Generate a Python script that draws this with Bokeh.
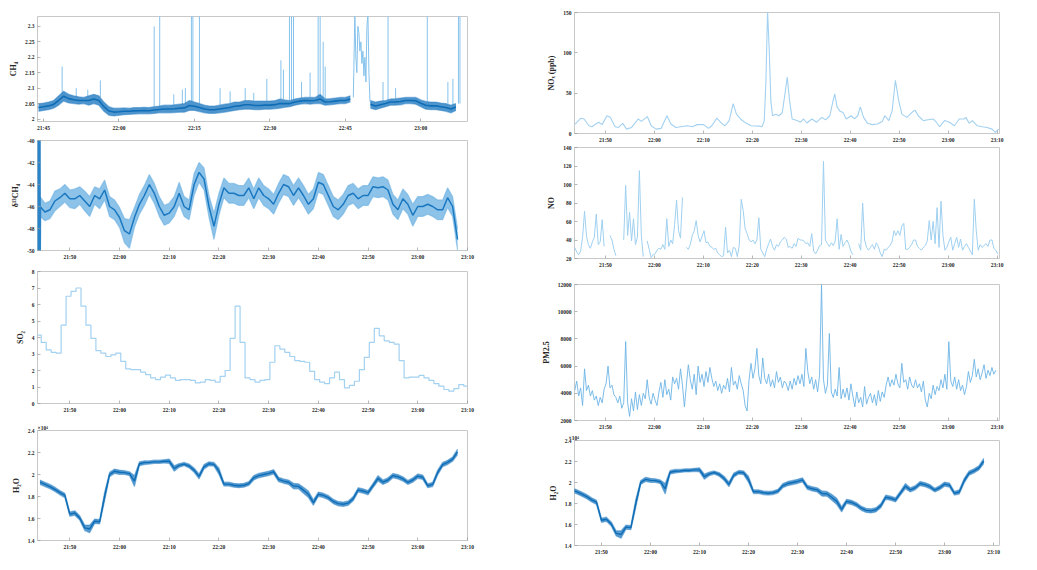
import numpy as np
from bokeh.plotting import figure
from bokeh.models import Range1d, FixedTicker, Title
from bokeh.layouts import row, column
from bokeh.embed import file_html
from bokeh.resources import INLINE

# ---------------- data ----------------
BASE = "21:40"            # offsets below are minutes after 21:40

ticks_15 = ["21:45", "22:00", "22:15", "22:30", "22:45", "23:00"]
ticks_10 = ["21:50", "22:00", "22:10", "22:20", "22:30", "22:40", "22:50", "23:00", "23:10"]

# CH4 (ppm): 1-min envelope of the dense trace, start 21:44
ch4_start = "21:44"
ch4_lo = [2.025, 2.028, 2.030, 2.035, 2.045, 2.058, 2.052, 2.050, 2.048, 2.050,
          2.045, 2.050, 2.045, 2.025, 2.012, 2.010, 2.012, 2.014, 2.015, 2.016,
          2.017, 2.017, 2.017, 2.018, 2.020, 2.020, 2.020, 2.021, 2.022, 2.022,
          2.028, 2.028, 2.024, 2.020, 2.018, 2.018, 2.020, 2.022, 2.025, 2.028,
          2.030, 2.032, 2.032, 2.030, 2.030, 2.032, 2.032, 2.033, 2.035, 2.038,
          2.040, 2.045, 2.048, 2.050, 2.048, 2.050, 2.050, 2.045, 2.046, 2.048,
          2.050, 2.050, 2.055, np.nan, np.nan, np.nan, 2.035, 2.030, 2.035, 2.040,
          2.045, 2.045, 2.046, 2.050, 2.050, 2.048, 2.040, 2.032, 2.030, 2.030,
          2.028, 2.025, 2.020, 2.028]
ch4_hi = [2.050, 2.052, 2.055, 2.060, 2.075, 2.090, 2.080, 2.075, 2.072, 2.070,
          2.075, 2.080, 2.075, 2.055, 2.040, 2.035, 2.035, 2.036, 2.035, 2.037,
          2.037, 2.038, 2.037, 2.040, 2.042, 2.045, 2.045, 2.046, 2.048, 2.050,
          2.060, 2.055, 2.050, 2.045, 2.042, 2.042, 2.045, 2.048, 2.050, 2.055,
          2.055, 2.060, 2.060, 2.058, 2.058, 2.058, 2.058, 2.060, 2.065, 2.062,
          2.060, 2.065, 2.068, 2.070, 2.070, 2.070, 2.080, 2.065, 2.066, 2.068,
          2.070, 2.070, 2.075, np.nan, np.nan, np.nan, 2.060, 2.055, 2.058, 2.060,
          2.065, 2.066, 2.068, 2.070, 2.070, 2.070, 2.062, 2.057, 2.055, 2.055,
          2.052, 2.050, 2.045, 2.050]
ch4_spike_min = [8.7, 11.5, 13.8, 16.3, 27.0, 28.1, 30.9, 32.6, 33.2, 34.4, 34.7, 36.0,
                 40.1, 42.1, 45.1, 46.8, 49.4, 52.2, 52.7, 53.9, 54.3, 54.7, 56.3, 58.0,
                 59.6, 60.0, 60.6, 61.0, 72.5, 73.5, 75.0, 81.3, 85.4, 86.4, 87.5, 87.8]
ch4_spike_base = [2.08, 2.07, 2.07, 2.07, 2.04, 2.04, 2.045, 2.045, 2.05, 2.055, 2.055, 2.05,
                  2.045, 2.05, 2.06, 2.06, 2.058, 2.065, 2.065, 2.06, 2.06, 2.06, 2.068, 2.07,
                  2.07, 2.07, 2.065, 2.065, 2.058, 2.06, 2.066, 2.057, 2.05, 2.045, 2.05, 2.05]
ch4_spike_top = [2.17, 2.10, 2.095, 2.125, 2.30, 2.34, 2.08, 2.095, 2.10, 2.34, 2.34, 2.34,
                 2.10, 2.09, 2.10, 2.085, 2.13, 2.19, 2.16, 2.34, 2.34, 2.34, 2.12, 2.15,
                 2.34, 2.34, 2.25, 2.17, 2.12, 2.34, 2.10, 2.34, 2.12, 2.13, 2.34, 2.34]
ch4_burst_min = [66.6, 66.9, 67.1, 67.3, 67.5, 67.7, 67.9, 68.1, 68.3, 68.5, 68.7, 68.9,
                 69.1, 69.3, 69.5, 69.7, 69.9, 70.1]
ch4_burst = [2.07, 2.34, 2.20, 2.15, 2.30, 2.28, 2.22, 2.25, 2.18, 2.22, 2.14, 2.20,
             2.12, 2.30, 2.34, 2.15, 2.06, 2.05]

# delta13C-CH4 (permil): 1-min envelope, start 21:44
d13_start = "21:44"
d13_lo = [-46.9, -47.3, -47.1, -46.4, -46.0, -45.6, -46.1, -46.2, -45.8, -46.4,
          -46.9, -45.8, -46.2, -45.4, -46.9, -47.2, -47.9, -49.3, -49.8, -47.9,
          -46.7, -45.9, -44.9, -45.7, -46.9, -47.7, -47.5, -46.9, -45.8, -46.9,
          -47.2, -45.0, -43.8, -44.5, -47.0, -49.0, -46.8, -45.2, -45.7, -45.7,
          -45.9, -45.9, -45.2, -46.2, -45.2, -45.9, -46.2, -46.7, -45.7, -44.9,
          -45.1, -45.9, -45.2, -45.9, -46.7, -46.2, -44.7, -44.9, -45.9, -46.9,
          -47.2, -46.7, -45.9, -45.7, -46.2, -45.9, -45.9, -45.1, -45.2, -45.1,
          -45.4, -46.7, -47.2, -46.2, -46.7, -47.8, -46.9, -46.9, -46.7, -46.9,
          -47.2, -47.2, -46.1, -46.9, -50.0]
d13_hi = [-45.1, -45.7, -45.5, -44.6, -44.4, -44.0, -44.5, -44.4, -44.2, -44.6,
          -45.1, -44.2, -44.4, -43.6, -45.1, -45.4, -46.1, -47.1, -47.2, -46.1,
          -44.9, -44.1, -43.1, -43.9, -45.1, -45.9, -45.7, -45.1, -43.8, -45.1,
          -45.4, -43.0, -42.0, -42.5, -45.0, -46.6, -44.8, -43.4, -43.9, -43.9,
          -44.1, -44.1, -43.4, -44.4, -43.4, -44.1, -44.4, -44.9, -43.9, -43.1,
          -43.3, -44.1, -43.4, -44.1, -44.9, -44.4, -42.9, -43.1, -44.1, -45.1,
          -45.4, -44.9, -44.1, -43.9, -44.4, -44.1, -44.1, -43.3, -43.4, -43.3,
          -43.6, -44.9, -45.4, -44.4, -44.9, -45.8, -45.1, -45.1, -44.9, -45.1,
          -45.4, -45.4, -44.3, -45.1, -48.0]
d13_burst_min = [3.40, 3.45, 3.50, 3.55, 3.60, 3.65, 3.70, 3.75, 3.80, 3.85, 3.90, 3.95, 4.00, 4.05, 4.10]
d13_burst = [-39, -51, -39, -51, -39, -51, -39, -51, -39, -51, -39, -51, -39, -51, -46]

# SO2: 1-min steps, start 21:43:15
so2_start = "21:43:15"
so2 = [4.15, 3.7, 3.25, 3.1, 3.05, 4.75, 6.5, 6.8, 7.0, 5.9,
       4.75, 3.95, 3.2, 3.05, 2.85, 2.95, 3.05, 2.55, 2.1, 2.05,
       2.05, 1.9, 1.75, 1.55, 1.45, 1.6, 1.72, 1.55, 1.4, 1.45,
       1.45, 1.4, 1.25, 1.3, 1.45, 1.4, 1.3, 1.65, 2.0, 3.95,
       5.9, 3.7, 1.55, 1.45, 1.3, 1.4, 1.45, 2.5, 3.5, 3.3,
       3.1, 2.85, 2.6, 2.55, 2.5, 1.95, 1.45, 1.3, 1.2, 1.55,
       1.9, 1.45, 0.95, 1.1, 1.35, 2.05, 2.8, 3.7, 4.55, 4.1,
       3.8, 3.7, 3.6, 2.6, 1.55, 1.6, 1.6, 1.7, 1.55, 1.4,
       1.2, 1.05, 0.85, 0.75, 0.9, 1.15, 1.05]

# H2O (ppm): 1-min envelope, start 21:44
h2o_start = "21:44"
h2o_lo = [19100, 18900, 18700, 18450, 18150, 17900, 16200, 16300, 15850, 14900,
          14700, 15550, 15500, 17600, 19800, 20100, 20000, 20000, 19900, 18900,
          20800, 20900, 20950, 21000, 21000, 21050, 21000, 20300, 20650, 20800,
          20600, 20200, 19600, 20500, 20800, 20750, 20000, 18950, 18950, 18850,
          18800, 18850, 19000, 19500, 19700, 19800, 19900, 20050, 19350, 19200,
          19100, 18700, 18700, 18300, 17900, 17200, 18000, 17900, 17700, 17350,
          17150, 17100, 17200, 17600, 18400, 18300, 18150, 18800, 19400, 19100,
          19300, 19700, 19600, 19400, 19100, 19300, 19650, 19550, 18800, 18900,
          19950, 20700, 20900, 21200, 21800]
h2o_hi = [19500, 19300, 19100, 18850, 18550, 18300, 16600, 16700, 16250, 15400,
          15400, 15950, 15900, 18400, 20200, 20500, 20400, 20350, 20250, 19900,
          21150, 21250, 21250, 21300, 21300, 21350, 21400, 20800, 21000, 21100,
          20950, 20600, 20050, 20900, 21150, 21100, 20600, 19300, 19300, 19200,
          19150, 19200, 19350, 19900, 20100, 20200, 20300, 20450, 19750, 19600,
          19500, 19200, 19150, 18850, 18500, 17700, 18400, 18300, 18100, 17750,
          17550, 17500, 17600, 18000, 18800, 18700, 18550, 19200, 19900, 19500,
          19700, 20100, 20000, 19800, 19450, 19700, 20050, 19950, 19150, 19300,
          20400, 21100, 21300, 21600, 22300]

# NOx (ppb): irregular samples, minutes after 21:40
nox_min = [3.84, 5.0, 5.65, 6.65, 7.3, 8.0, 8.66, 9.33, 10.33, 11.0,
           12.0, 12.68, 13.55, 14.35, 15.35, 16.7, 17.36, 18.57, 19.37, 20.37,
           21.38, 22.58, 23.39, 24.39, 25.4, 26.73, 27.74, 28.74, 30.08, 31.08,
           31.75, 32.76, 33.76, 34.43, 35.3, 36.1, 36.77, 37.78, 38.78, 39.79,
           41.46, 42.0, 42.46, 42.8, 43.13, 43.47, 43.8, 44.14, 44.8, 45.47,
           46.14, 46.68, 47.15, 47.62, 48.15, 49.16, 49.83, 50.5, 51.16, 52.17,
           53.17, 54.18, 54.98, 55.85, 56.52, 56.85, 57.32, 57.86, 58.53, 59.2,
           60.2, 60.87, 61.54, 62.07, 62.74, 63.55, 64.55, 65.56, 66.56, 67.1,
           67.9, 68.57, 69.24, 69.9, 70.57, 71.58, 72.58, 73.25, 73.92, 74.93,
           75.93, 76.93, 77.6, 78.27, 79.28, 80.28, 81.28, 82.29, 83.29, 83.63,
           84.3, 84.97, 85.97, 86.97, 87.98, 88.98, 89.65, 90.32]
nox = [11.7, 19, 18, 9.6, 8.4, 11.7, 14, 11, 22, 20,
       8.4, 7.5, 12.6, 5.4, 7.5, 18, 15, 21, 9.6, 5.4,
       6.3, 22, 11.7, 7.5, 8.4, 9.6, 8.4, 11, 11, 6.3,
       9.6, 19, 12.6, 9.6, 16, 37, 24, 17, 12.6, 9.6,
       9.2, 8.4, 16, 66, 152, 104, 41, 22, 24, 22,
       26, 49, 70, 41, 18, 16, 14, 18, 13, 18,
       14, 20, 17, 22, 41, 49, 33, 28, 26, 18,
       22, 18, 22, 33, 20, 12.6, 11, 11.7, 15, 22,
       16, 28, 66, 41, 24, 20, 26, 29, 22, 16,
       17, 18, 14, 8.4, 16, 14, 9.6, 18, 18, 20,
       12.6, 16, 9.6, 8.4, 7.5, 5.4, 1.3, 5.4]

# NO and PM2.5: 24-s samples, start 21:43:45 (nan = no data)
fast_start = "21:43:45"
fast_step_s = 24
nan = np.nan
no = [31.8, 27, 24, 28, 43, 71, 44, 35, 31, 38,
      43, 68, 35, 38, 62, 33, nan, nan, 45, 40,
      30, 23, nan, nan, nan, 40, 99, 45, 70, 39,
      63, 35, 43, 115, 45, 22, nan, 39, 30, 21,
      24, 25, 29, 31, 30, 35, 30, 63, 33, 40,
      36, 57, 83, 50, 42, 86, nan, 32, 30, 35,
      45, 50, 61, 45, 38, 44, 50, 37, 38, 33,
      32, 30, 31, 26, 24, 22, 23, 54, 26, 29,
      22, 32, 31, 22, 34, 84, 72, 52, 47, 40,
      38, 40, 36, 40, 64, 30, 26, 22, 30, 36,
      41, 33, 29, 35, 33, 38, 40, 43,
      41, 32, 33, 31, 36, 33, 42, 40, 40, 39,
      36, 37, 33, 47, 28, 25, 29, 34, 35, 125,
      40, 36, 33, 37, 34, 39, 63, 30, 46, 33,
      37, 40, 35, 28, 24, nan, nan, 36, 29, 80,
      40, 32, 29, 32, 35, 30, 37, 33, 26, 22,
      30, 29, 32, 34, 38, 50, 45, 50, 45, 55,
      58, 30, 30, 32, 35, 40, 40, 33, 31, 29,
      32, 34, 39, 61, 40, 60, 36, 75, 32, 82,
      45, 29, 32, 38, 43, 29, 36, 43, 32, 41,
      29, 33, 36, 32, 28, 24, 84, 50, 29, 35,
      32, 34, 36, 33, 40, 40, 31, 29, 25]
pm25 = [4200, 4900, 3800, 4400, 3100, 5800, 4200, 4600, 3800, 4200,
        3500, 3800, 3100, 3700, 3300, 4300, 4700, 6000, 4400, 4600,
        3900, 3700, 3300, 3800, 2900, 3300, 7800, 3300, 2300, 3600,
        2700, 4100, 2800, 3900, 3100, 4000, 3600, 5000, 3700, 3200,
        4000, 3500, 3100, 4100, 4800, 3700, 5000, 3900, 4300, 3500,
        5200, 4700, 5100, 4300, 5800, 4600, 3000, 4600, 6100, 5000,
        4300, 5400, 3900, 6000, 4800, 5400, 4500, 5600, 4800, 5900,
        5100, 4500, 4900, 4200, 4700, 4000, 4600, 4300, 5100, 4100,
        5900, 4600, 4900, 4300, 5300, 4700, 4200, 3100, 2700, 5000,
        6200, 5100, 5800, 7300, 5300, 4700, 6600, 5100, 4700, 5400,
        4500, 5000, 4400, 5600, 4800, 5200, 4400, 4900,
        4700, 4200, 4900, 4300, 5100, 4600, 5300, 4700, 5400, 4500,
        7300, 5600, 4700, 5200, 4300, 5000, 4100, 5300, 12000, 5000,
        4000, 4600, 8400, 4100, 3700, 4300, 3800, 5900, 3600, 4300,
        3700, 4400, 3500, 4700, 3800, 3000, 4100, 3300, 3700, 3000,
        4500, 3200, 3700, 4000, 3300, 3900, 3100, 4200, 3400, 4100,
        3700, 4600, 5200, 4500, 5000, 4600, 5400, 4700, 4400, 6200,
        4800, 5000, 4300, 5200, 4600, 4400, 5000, 4400, 4700, 4100,
        4900, 3500, 3000, 4000, 3600, 4600, 3900, 4500, 4200, 5000,
        4400, 5400, 4300, 7800, 4900, 4500, 5200, 4300, 5000, 4200,
        4600, 3900, 4500, 5600, 4800, 5300, 6500, 5200, 5800, 5000,
        5500, 6100, 5100, 5700, 5300, 5900, 5400, 5700]

# ---------------- helpers ----------------
def hm(s):
    parts = [float(v) for v in s.split(":")]
    return parts[0] * 60 + parts[1] + (parts[2] / 60.0 if len(parts) > 2 else 0.0)

T_BASE = hm(BASE)

def regular(start, n, step_min):
    return hm(start) + np.arange(n) * step_min

SERIF = "Liberation Serif"
FRAME = "#c8c8c8"
TICKC = "#9a9a9a"
TXT = "#262626"

def style(ax):
    ax.axis_line_color = None
    ax.major_tick_in = 3
    ax.major_tick_out = 0
    ax.major_tick_line_color = TICKC
    ax.major_tick_line_width = 0.7
    ax.minor_tick_line_color = None
    ax.major_label_text_font = SERIF
    ax.major_label_text_font_style = "bold"
    ax.major_label_text_font_size = "5.5px"
    ax.major_label_text_color = TXT
    ax.major_label_standoff = 3
    ax.axis_label_text_font = SERIF
    ax.axis_label_text_font_style = "bold"
    ax.axis_label_text_font_size = "8px"
    ax.axis_label_text_color = TXT
    ax.axis_label_standoff = 4

def panel(w, h, borders, xr, yr, xlabels, yticks, ylabels, ytitle):
    l, r, t, b = borders
    p = figure(width=w, height=h, output_backend="svg", toolbar_location=None,
               x_range=Range1d(*xr), y_range=Range1d(*yr),
               min_border_left=l, min_border_right=r,
               min_border_top=t, min_border_bottom=b)
    p.grid.visible = False
    p.outline_line_color = FRAME
    p.outline_line_width = 1
    p.background_fill_color = "white"
    p.border_fill_color = "white"
    xt = [hm(s) for s in xlabels]
    xa, ya = p.xaxis[0], p.yaxis[0]
    xa.ticker = FixedTicker(ticks=xt)
    xa.major_label_overrides = {v: s for v, s in zip(xt, xlabels)}
    ya.ticker = FixedTicker(ticks=yticks)
    ya.major_label_overrides = {v: s for v, s in zip(yticks, ylabels)}
    ya.axis_label = ytitle
    style(xa)
    style(ya)
    return p

def runs(mask):
    idx = np.flatnonzero(mask)
    if idx.size == 0:
        return []
    return np.split(idx, np.flatnonzero(np.diff(idx) > 1) + 1)

def dense(p, start, lo, hi, fill_color, fill_alpha, core_color, core_width):
    lo = np.asarray(lo, float)
    hi = np.asarray(hi, float)
    t = regular(start, len(lo), 1.0)
    for seg in runs(~np.isnan(lo)):
        p.varea(x=t[seg], y1=lo[seg], y2=hi[seg], fill_color=fill_color, fill_alpha=fill_alpha)
        p.line(t[seg], lo[seg], line_color=fill_color, line_alpha=0.5, line_width=1.2)
        p.line(t[seg], hi[seg], line_color=fill_color, line_alpha=0.5, line_width=1.2)
    p.line(t, (lo + hi) / 2.0, line_color=core_color, line_width=core_width)

def x10(p, dx=0):
    p.add_layout(Title(text="×10⁴", align="left", offset=dx, standoff=0,
                       text_font=SERIF, text_font_style="bold", text_font_size="5.5px",
                       text_color=TXT), "above")

DARK = "#0f6db6"
MID = "#2f83c6"
LIGHT = "#a3d1f1"

PAGE = 8                    # the page itself has no margin: offset the panels
LW, RW = 510 + PAGE, 510
h2o_ticks = [14000, 16000, 18000, 20000, 22000, 24000]
h2o_labels = ["1.4", "1.6", "1.8", "2", "2.2", "2.4"]

# ---- P1 CH4
xr1 = (1303.8, 1389.3)
ch4_ticks = [2.0, 2.05, 2.1, 2.15, 2.2, 2.25, 2.3]
p1 = panel(LW, 126 + PAGE, (29 + PAGE, 49, 8 + PAGE, 13), xr1, (1.992, 2.332), ticks_15,
           ch4_ticks, ["2", "2.05", "2.1", "2.15", "2.2", "2.25", "2.3"], "CH₄")
st = T_BASE + np.asarray(ch4_spike_min)
p1.segment(x0=st, y0=ch4_spike_base, x1=st, y1=ch4_spike_top, line_color="#86c2ec", line_width=1)
p1.line(T_BASE + np.asarray(ch4_burst_min), ch4_burst, line_color="#86c2ec", line_width=1)
dense(p1, ch4_start, ch4_lo, ch4_hi, MID, 0.85, DARK, 1.6)

# ---- P2 d13C
xr2 = (1303.5, 1390.0)
p2 = panel(LW, 130, (29 + PAGE, 51, 6, 14), xr2, (-50, -40), ticks_10,
           [-50, -48, -46, -44, -42, -40], ["-50", "-48", "-46", "-44", "-42", "-40"], "δ¹³CH₄")
dense(p2, d13_start, d13_lo, d13_hi, "#5ea9e0", 0.7, "#1a78c1", 1.5)
p2.line(T_BASE + np.asarray(d13_burst_min), d13_burst, line_color="#2b84c8", line_width=1.5)

# ---- P3 SO2
p3 = panel(LW, 153, (29 + PAGE, 51, 7, 14), xr2, (0, 8), ticks_10,
           list(range(9)), [str(i) for i in range(9)], "SO₂")
ts = regular(so2_start, len(so2) + 1, 1.0)
p3.step(ts, list(so2) + [so2[-1]], mode="after", line_color=LIGHT, line_width=1.2)

# ---- P4 H2O
p4 = panel(LW, 137, (29 + PAGE, 51, 13, 14), xr2, (14000, 24000), ticks_10,
           h2o_ticks, h2o_labels, "H₂O")
dense(p4, h2o_start, h2o_lo, h2o_hi, MID, 0.8, DARK, 1.4)
x10(p4)

# ---- P5 NOx
xr5 = (1303.7, 1390.5)
p5 = panel(RW, 137 + PAGE, (49, 29, 4 + PAGE, 12), xr5, (0, 150), ticks_10,
           [0, 50, 100, 150], ["0", "50", "100", "150"], "NOₓ (ppb)")
p5.line(T_BASE + np.asarray(nox_min), nox, line_color=LIGHT, line_width=1.1)

# ---- P6 NO
tf = regular(fast_start, len(no), fast_step_s / 60.0)
p6 = panel(RW, 127, (49, 29, 2, 14), xr5, (20, 140), ticks_10,
           [20, 40, 60, 80, 100, 120, 140], ["20", "40", "60", "80", "100", "120", "140"], "NO")
p6.line(tf, no, line_color="#9fd0f0", line_width=1)

# ---- P7 PM2.5
tp = regular(fast_start, len(pm25), fast_step_s / 60.0)
p7 = panel(RW, 160, (49, 29, 12, 12), xr5, (2000, 12000), ticks_10,
           [2000, 4000, 6000, 8000, 10000, 12000],
           ["2000", "4000", "6000", "8000", "10000", "12000"], "PM2.5")
p7.line(tp, pm25, line_color="#6db4e5", line_width=0.9)

# ---- P8 H2O (right)
xr8 = (1304.5, 1391.2)
p8 = panel(RW, 127, (56, 27, 5, 14), xr8, (14000, 24000), ticks_10,
           h2o_ticks, h2o_labels, "H₂O")
dense(p8, h2o_start, h2o_lo, h2o_hi, MID, 0.8, DARK, 1.4)
x10(p8, dx=-6)

layout = row(column(p1, p2, p3, p4, spacing=0), column(p5, p6, p7, p8, spacing=0), spacing=0)
open("out.html", "w").write(file_html(layout, INLINE))
